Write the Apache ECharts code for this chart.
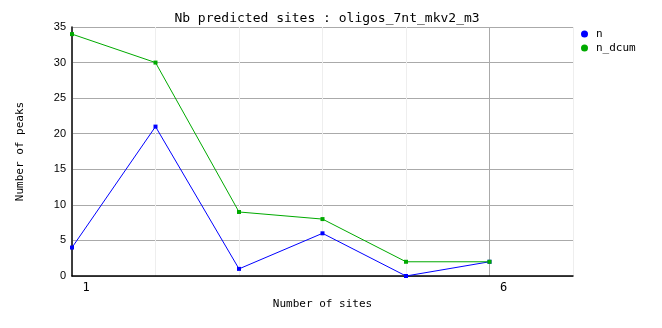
<!DOCTYPE html>
<html><head><meta charset="utf-8">
<script src="https://cdn.jsdelivr.net/npm/echarts@6/dist/echarts.min.js"></script>
<style>html,body{margin:0;padding:0;background:#fff}#c{width:662px;height:328px}</style>
</head><body><div id="c"></div>
<script>
const sites = [1, 2, 3, 4, 5, 6];
const nValues = [4, 21, 1, 6, 0, 2];
const nDcumValues = [34, 30, 9, 8, 2, 2];
const xLabelsShown = [1, 6];
const mono = 'DejaVu Sans Mono';
const chart = echarts.init(document.getElementById('c'), null, {renderer: 'canvas'});
chart.setOption({
  animation: false,
  backgroundColor: '#fff',
  title: {
    text: 'Nb predicted sites : oligos_7nt_mkv2_m3',
    left: 322, top: 7, textAlign: 'center',
    textStyle: {fontFamily: mono, fontSize: 13, fontWeight: 'normal', color: '#000'}
  },
  legend: {
    orient: 'vertical', left: 581, top: 28, itemWidth: 7, itemHeight: 7, itemGap: 2, padding: 0,
    icon: 'circle',
    textStyle: {fontFamily: mono, fontSize: 11, color: '#000', padding: [0, 0, 0, 3], lineHeight: 12},
    data: ['n', 'n_dcum']
  },
  grid: {left: 72, right: 89, top: 27, bottom: 52, containLabel: false},
  xAxis: {
    type: 'value', min: 1, max: 7, interval: 1,
    name: 'Number of sites', nameLocation: 'middle', nameGap: 22,
    nameTextStyle: {fontFamily: mono, fontSize: 11, color: '#000'},
    axisLine: {lineStyle: {color: '#000', width: 1.5}},
    axisTick: {show: false},
    axisLabel: {
      fontFamily: mono, fontSize: 12, color: '#000', margin: 6,
      padding: [0, 0, 0, 28],
      formatter: v => xLabelsShown.includes(v) ? String(v) : ''
    },
    splitLine: {show: true, lineStyle: {color: ['#eeeeee', '#eeeeee', '#eeeeee', '#eeeeee', '#eeeeee', '#aaaaaa', '#eeeeee'], width: 1}}
  },
  yAxis: {
    type: 'value', min: 0, max: 35, interval: 5,
    name: 'Number of peaks', nameLocation: 'middle', nameGap: 46, nameRotate: 90,
    nameTextStyle: {fontFamily: mono, fontSize: 11, color: '#000'},
    axisLine: {show: true, lineStyle: {color: '#000', width: 1.5}},
    axisTick: {show: false},
    axisLabel: {fontFamily: 'Liberation Sans', fontSize: 11, color: '#000', margin: 6},
    splitLine: {show: true, lineStyle: {color: '#aaaaaa', width: 1}}
  },
  series: [
    {name: 'n', type: 'line', data: sites.map((s, i) => [s, nValues[i]]),
     color: '#0000ff', symbol: 'rect', symbolSize: 4, lineStyle: {width: 1}, itemStyle: {color: '#0000ff'}},
    {name: 'n_dcum', type: 'line', data: sites.map((s, i) => [s, nDcumValues[i]]),
     color: '#00aa00', symbol: 'rect', symbolSize: 4, lineStyle: {width: 1}, itemStyle: {color: '#00aa00'}}
  ]
});
</script>
</body></html>
